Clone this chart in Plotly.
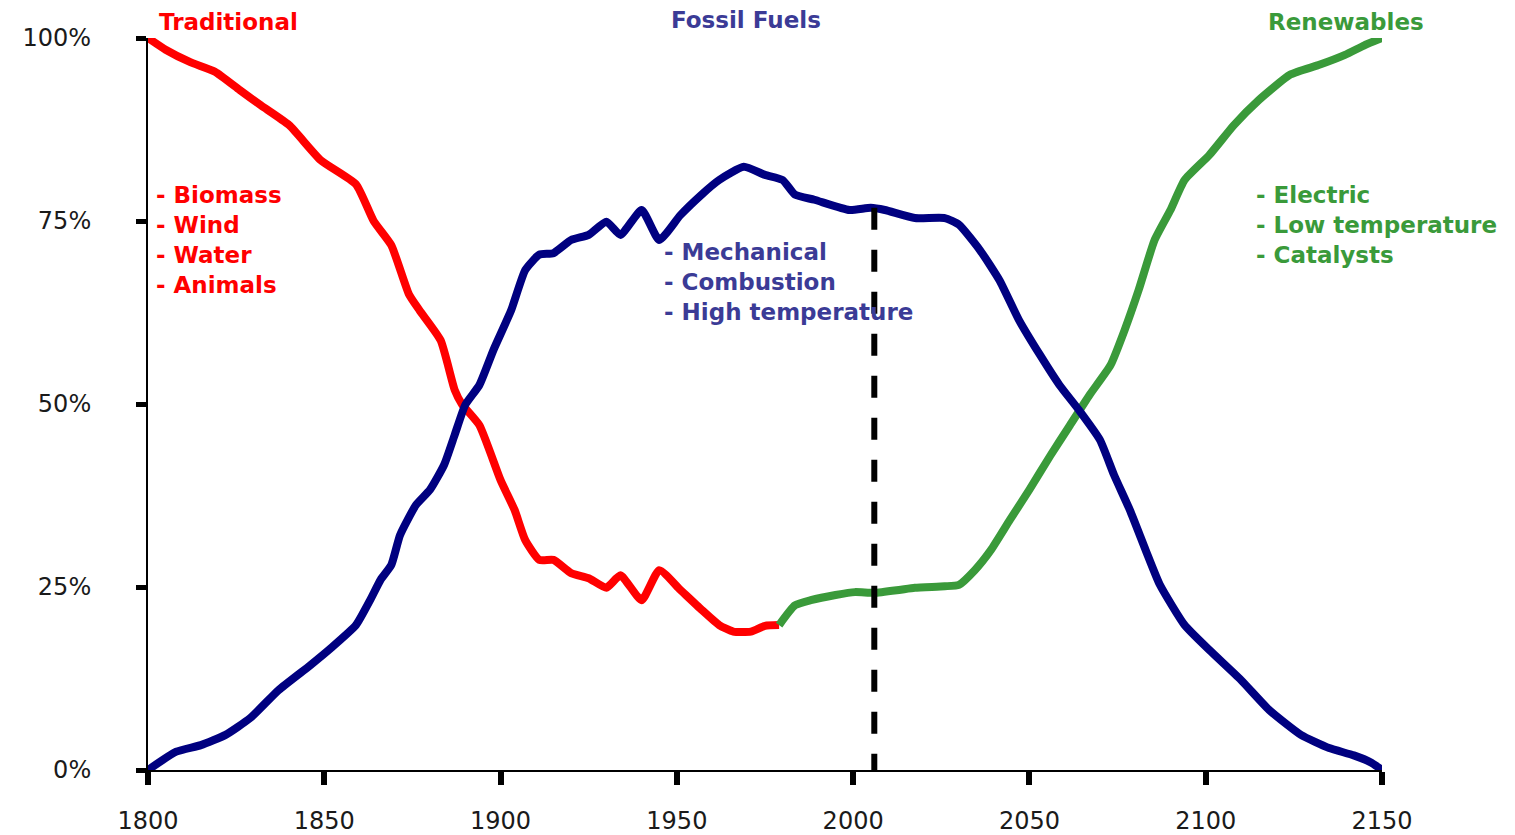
import plotly.graph_objects as go

# ---- data ----
trad_years = [1800, 1805, 1812, 1819, 1826, 1832, 1840, 1849, 1859, 1864, 1869, 1874, 1877,
              1883, 1887, 1889, 1894, 1900, 1904, 1907, 1911, 1915, 1920, 1925, 1930, 1934,
              1940, 1945, 1951, 1957, 1962, 1966, 1971, 1975, 1979]
trad_share = [100, 98.4, 96.7, 95.4, 92.9, 90.8, 88.1, 83.3, 80.0, 75.0, 71.7, 65.0, 62.8,
              58.7, 51.9, 50.0, 47.1, 39.6, 35.5, 31.4, 28.7, 28.7, 26.9, 26.2, 24.9, 26.6,
              23.2, 27.3, 24.6, 21.9, 19.8, 18.9, 18.9, 19.7, 19.8]

renew_years = [1979, 1983.5, 1988, 1995, 2000.5, 2006, 2013, 2017.5, 2026, 2030, 2034.5, 2039,
               2044.5, 2050, 2056, 2061.5, 2067, 2073, 2077, 2081, 2085.5, 2090, 2094, 2101,
               2108, 2115, 2124, 2132, 2139.5, 2145, 2150]
renew_share = [19.8, 22.5, 23.2, 23.9, 24.3, 24.2, 24.6, 24.9, 25.1, 25.3, 27.3, 30.0,
               34.2, 38.3, 43.0, 47.1, 51.2, 55.3, 60.1, 65.6, 72.4, 76.5, 80.6, 84.0,
               88.1, 91.5, 95.0, 96.3, 97.7, 99.0, 100]

fossil_years = [1800, 1808, 1815, 1822, 1829, 1837, 1846, 1852, 1859, 1863, 1866, 1869, 1871.5,
                1876, 1880, 1884, 1887, 1890, 1894, 1898, 1903, 1907, 1911, 1915, 1920, 1925,
                1930, 1934, 1940, 1945, 1951, 1957, 1962, 1969, 1975, 1980, 1983.5, 1989, 1999,
                2005, 2009, 2017.5, 2026, 2030, 2036, 2041.5, 2047, 2053, 2058.5, 2064, 2070,
                2074, 2078.5, 2083, 2087, 2094, 2101, 2110, 2118, 2127, 2135, 2142, 2147, 2150]
fossil_share = [0, 2.5, 3.4, 4.8, 7.1, 10.9, 14.3, 16.7, 19.8, 23.2, 26.0, 28.0, 32.1,
                36.2, 38.3, 41.7, 45.8, 49.9, 52.6, 57.4, 62.8, 68.3, 70.4, 70.6, 72.4, 73.1,
                74.9, 73.1, 76.5, 72.4, 75.8, 78.6, 80.6, 82.4, 81.3, 80.6, 78.6, 77.9, 76.5,
                76.8, 76.5, 75.4, 75.4, 74.5, 71.0, 66.9, 61.5, 56.7, 52.6, 49.2, 45.1,
                40.3, 35.5, 30.0, 25.3, 19.8, 16.4, 12.3, 8.2, 4.8, 3.0, 2.0, 1.0, 0]

today_year = 2006
today_level = 76.8

x_ticks = [1800, 1850, 1900, 1950, 2000, 2050, 2100, 2150]
y_ticks = [0, 25, 50, 75, 100]
y_tick_labels = ["0%", "25%", "50%", "75%", "100%"]

RED = "#ff0000"
NAVY = "#000080"
GREEN = "#3a9a3a"
NAVY_TXT = "#3b3b96"
FONT = "DejaVu Sans"
TICK_FONT = dict(family=FONT, size=24, color="#1a1a1a")

def curve(xs, ys, color):
    return go.Scatter(x=xs, y=ys, mode="lines",
                      line=dict(color=color, width=8, shape="spline", smoothing=0.5),
                      cliponaxis=False, hoverinfo="skip")

fig = go.Figure()
fig.add_trace(curve(trad_years, trad_share, RED))
fig.add_trace(curve(renew_years, renew_share, GREEN))
fig.add_trace(curve(fossil_years, fossil_share, NAVY))
fig.add_trace(go.Scatter(x=[today_year, today_year], y=[today_level, 0], mode="lines",
                         line=dict(color="black", width=6, dash="22px,20px"),
                         cliponaxis=False, hoverinfo="skip"))

def note(x, y, text, color, anchor="center", yref="y"):
    fig.add_annotation(x=x, y=y, xref="x", yref=yref, text=text, showarrow=False,
                       xanchor=anchor, yanchor="middle", align="left",
                       font=dict(family=FONT, size=23, color=color, weight="bold"))

# headings above the plot area (paper y > 1)
note(1822.7, 1.022, "Traditional", RED, yref="paper")
note(1969.6, 1.025, "Fossil Fuels", NAVY_TXT, yref="paper")
note(2139.8, 1.022, "Renewables", GREEN, yref="paper")
# lists inside the plot
note(1801.6, 72.4, "- Biomass<br>- Wind<br>- Water<br>- Animals", RED, "left")
note(1945.7, 66.7, "- Mechanical<br>- Combustion<br>- High temperature", NAVY_TXT, "left")
note(2113.7, 74.5, "- Electric<br>- Low temperature<br>- Catalysts", GREEN, "left")

# page body has an 8px margin, so the figure is sized/offset to put the plot area
# at the same page pixels as the reference
fig.update_layout(
    width=1507, height=827,
    margin=dict(l=140, r=133, t=30, b=65, autoexpand=False),
    paper_bgcolor="white", plot_bgcolor="white",
    showlegend=False,
    font=dict(family=FONT, size=22, color="#1a1a1a"),
)
fig.update_xaxes(range=[1800, 2150], tickvals=x_ticks, ticktext=[str(v) for v in x_ticks],
                 showgrid=False, zeroline=False, showline=True, linecolor="black", linewidth=2,
                 ticks="outside", ticklen=13, tickwidth=6, tickcolor="black", automargin=False,
                 ticklabelstandoff=15, tickfont=TICK_FONT)
fig.update_yaxes(range=[0, 100], tickvals=y_ticks, ticktext=y_tick_labels,
                 showgrid=False, zeroline=False, showline=True, linecolor="black", linewidth=2,
                 ticks="outside", ticklen=10, tickwidth=5, tickcolor="black", automargin=False,
                 ticklabelstandoff=40, tickfont=TICK_FONT)

fig.write_html("out.html")
